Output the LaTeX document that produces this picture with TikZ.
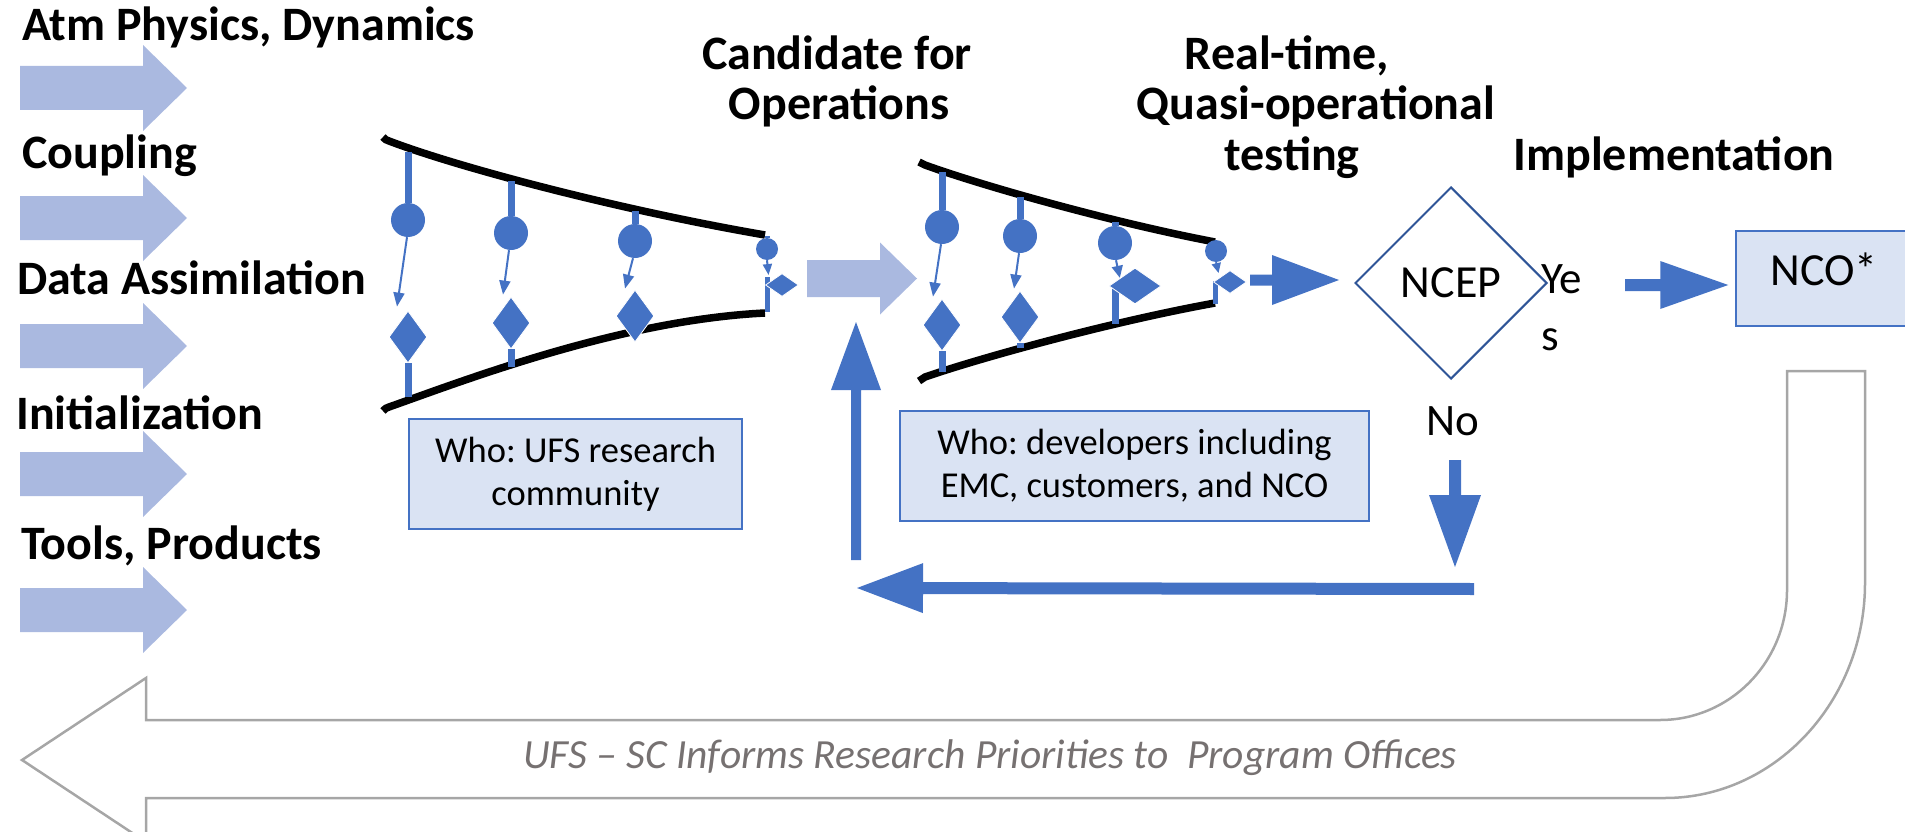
\documentclass[tikz,border=0pt]{standalone}
\usepackage{fontspec}
\setmainfont{Carlito}
\frenchspacing
\usetikzlibrary{arrows.meta,calc,shapes.geometric}
\definecolor{ublue}{HTML}{4472C4}
\definecolor{lblue}{HTML}{AAB9E0}
\definecolor{dblue}{HTML}{2F5597}
\definecolor{boxfill}{HTML}{DAE3F3}
\definecolor{ugray}{HTML}{A6A6A6}
\definecolor{tgray}{HTML}{767171}
% block arrow: #1 style, #2 start, #3 tip, #4 half shaft, #5 half head, #6 head length
\newcommand{\barrow}[6]{%
  \coordinate (tmpH) at ($(#3)!#6!(#2)$);
  \fill[#1] ($(#2)!#4!90:(#3)$) -- ($(tmpH)!#4!90:(#3)$) -- ($(tmpH)!#5!90:(#3)$) -- (#3)
    -- ($(tmpH)!#5!-90:(#3)$) -- ($(tmpH)!#4!-90:(#3)$) -- ($(#2)!#4!-90:(#3)$) -- cycle;}
\tikzset{
 lbl/.style={font=\bfseries\fontsize{48}{57}\selectfont, inner sep=0pt},
 heading/.style={font=\bfseries\fontsize{48}{57}\selectfont, inner sep=0pt},
 reg/.style={font=\fontsize{45}{57}\selectfont, inner sep=0pt},
 whobox/.style={draw=ublue, line width=1.5pt, fill=boxfill, align=center,
   font=\fontsize{36.5}{43}\selectfont, inner sep=0pt},
 funnel/.style={line width=7.5pt},
 ball/.style={circle, fill=ublue, inner sep=0pt},
 gem/.style={diamond, fill=ublue, draw=white, line width=0.8pt, inner sep=0pt},
 stemline/.style={draw=ublue, line width=7pt},
 tarrow/.style={draw=ublue, line width=2pt, -{Triangle[length=14pt,width=11pt]}},
}
\begin{document}
\begin{tikzpicture}[x=1pt,y=-1pt]
\useasboundingbox (0,0) rectangle (1905,832);

% ---------- left inputs ----------
\node[lbl, anchor=base west] (l1) at (22,41) {Atm Physics, Dynamics};
\node[lbl, anchor=base west] (l2) at (22,168) {Coupling};
\node[lbl, anchor=base west] (l3) at (17,294) {Data Assimilation};
\node[lbl, anchor=base west] (l4) at (16,429) {Initialization};
\node[lbl, anchor=base west] (l5) at (21,559) {Tools, Products};
\foreach \i/\yy in {1/88,2/218,3/346,4/474,5/610}{
  \coordinate (ls\i) at (20,\yy);
  \coordinate (le\i) at (187,\yy);
  \barrow{fill=lblue}{ls\i}{le\i}{22pt}{43pt}{44pt}
}

% ---------- headings ----------
\node[heading, anchor=base] (h1a) at (837,70) {Candidate for};
\node[heading, anchor=base] (h1b) at (839,120) {Operations};
\node[heading, anchor=base] (h2a) at (1287,70) {Real-time,};
\node[heading, anchor=base] (h2b) at (1316,120) {Quasi-operational};
\node[heading, anchor=base] (h2c) at (1292,170) {testing};
\node[heading, anchor=base] (h3) at (1674,170) {Implementation};

% ---------- funnel 1 ----------
\draw[funnel] (383,137) .. controls (386,140) .. (389,141) .. controls (460,168) and (620,210) .. (765,235);
\draw[funnel] (383,411) .. controls (386,408) .. (389,407) .. controls (460,382) and (620,320) .. (765,313);

\node[ball, minimum size=34pt] (c11) at (408,220) {};
\node[gem, minimum width=38pt, minimum height=52pt] (d11) at (408,337) {};
\coordinate (t11) at (408,152); \coordinate (b11) at (408,397);
\draw[stemline] (t11) -- (c11); \draw[stemline] (d11) -- (b11);
\draw[tarrow] ([xshift=-1pt]c11.south) -- ([xshift=-11pt,yshift=4pt]d11.north);

\node[ball, minimum size=34pt] (c12) at (511,233) {};
\node[gem, minimum width=38pt, minimum height=52pt] (d12) at (511,323) {};
\coordinate (t12) at (511,181); \coordinate (b12) at (511,367);
\draw[stemline] (t12) -- (c12); \draw[stemline] (d12) -- (b12);
\draw[tarrow] ([xshift=-2pt]c12.south) -- ([xshift=-8pt,yshift=2pt]d12.north);

\node[ball, minimum size=34pt] (c13) at (635,241) {};
\node[gem, minimum width=38pt, minimum height=52pt] (d13) at (635,316) {};
\coordinate (t13) at (635,211);
\draw[stemline] (t13) -- (c13);
\draw[tarrow] ([xshift=-2pt]c13.south) -- ([xshift=-10pt,yshift=1pt]d13.north);

\node[ball, minimum size=22pt] (c14) at (767,249) {};
\coordinate (t14) at (767,236);
\draw[stemline, line width=5pt] (t14) -- (c14);
\coordinate (f14a) at (767,277); \coordinate (f14b) at (767,312);
\draw[stemline, line width=5pt] (f14a) -- (f14b);
\node[gem, minimum width=33pt, minimum height=23pt] (d14) at (782,285) {};
\draw[tarrow, -{Triangle[length=11pt,width=9pt]}] (c14.south) -- ([xshift=-5pt,yshift=4pt]d14.north west);

% ---------- arrow between funnels ----------
\coordinate (mS) at (807,278.5); \coordinate (mE) at (917,278.5);
\barrow{fill=lblue}{mS}{mE}{18.5pt}{36pt}{37pt}

% ---------- funnel 2 ----------
\draw[funnel] (919,162) .. controls (922,164) .. (925,165) .. controls (980,185) and (1110,222) .. (1215,242);
\draw[funnel] (919,381) .. controls (922,379) .. (925,377) .. controls (980,358) and (1110,322) .. (1215,303);

\node[ball, minimum size=34pt] (c21) at (942,227) {};
\node[gem, minimum width=38pt, minimum height=52pt] (d21) at (942,325) {};
\coordinate (t21) at (942,172); \coordinate (b21) at (942,372);
\draw[stemline] (t21) -- (c21); \draw[stemline] (d21) -- (b21);
\draw[tarrow] ([xshift=-1pt]c21.south) -- ([xshift=-9pt,yshift=2pt]d21.north);

\node[ball, minimum size=34pt] (c22) at (1020,236) {};
\node[gem, minimum width=38pt, minimum height=52pt] (d22) at (1020,317) {};
\coordinate (t22) at (1020,197); \coordinate (b22) at (1020,348);
\draw[stemline] (t22) -- (c22); \draw[stemline] (d22) -- (b22);
\draw[tarrow] ([xshift=-1pt]c22.south) -- ([xshift=-6pt,yshift=2pt]d22.north);

\node[ball, minimum size=34pt] (c23) at (1115,243) {};
\coordinate (t23) at (1115,222);
\draw[stemline] (t23) -- (c23);
\coordinate (f23a) at (1115,284); \coordinate (f23b) at (1115,324);
\draw[stemline, line width=7pt] (f23a) -- (f23b);
\node[gem, minimum width=52pt, minimum height=36pt] (d23) at (1135,286) {};
\draw[tarrow, -{Triangle[length=12pt,width=11pt]}] ([xshift=1pt]c23.south) -- ([xshift=-2pt,yshift=-1pt]d23.north west);

\node[ball, minimum size=22pt] (c24) at (1216,251) {};
\coordinate (f24a) at (1215,281); \coordinate (f24b) at (1215,304);
\draw[stemline, line width=5pt] (f24a) -- (f24b);
\node[gem, minimum width=33pt, minimum height=23pt] (d24) at (1230,282) {};
\draw[tarrow, -{Triangle[length=10pt,width=9pt]}] (c24.south) -- ([xshift=-3pt,yshift=3pt]d24.north west);

% ---------- who boxes ----------
\node[whobox, minimum width=333pt, minimum height=110pt] (who1) at (575.5,474) {Who: UFS research\\community};
\node[whobox, minimum width=469pt, minimum height=110pt] (who2) at (1134.5,466) {Who: developers including\\EMC, customers, and NCO};

% ---------- decision ----------
\node[diamond, draw=dblue, line width=2pt, minimum width=192pt, minimum height=192pt,
      inner sep=0pt, font=\fontsize{46}{55}\selectfont] (ncep) at (1451,283) {NCEP};
\coordinate (inS) at (1250,280); \coordinate (inE) at ($(ncep.west)+(-15,-3)$);
\barrow{fill=ublue}{inS}{inE}{5.5pt}{25pt}{67pt}

\node[reg, anchor=north west, align=left] (yes) at (1541,264) {Ye\\s};
\node[reg, anchor=base] (no) at (1453,435) {No};

\node[draw=ublue, line width=1.5pt, fill=boxfill, minimum width=176pt, minimum height=95pt,
      inner sep=0pt, font=\fontsize{46}{55}\selectfont, text height=32pt, text depth=19pt] (nco) at (1824,278.5) {NCO*};
\coordinate (yS) at (1625,285); \coordinate (yE) at ($(nco.west)+(-7,6.5)$);
\barrow{fill=ublue}{yS}{yE}{6pt}{24pt}{68pt}

% ---------- loop back ----------
\coordinate (nS) at (1455,460); \coordinate (nE) at (1455,567);
\barrow{fill=ublue}{nS}{nE}{6pt}{26pt}{72pt}
\coordinate (bS) at (1474,589); \coordinate (bE) at (857,588);
\barrow{fill=ublue}{bS}{bE}{6pt}{25pt}{66pt}
\coordinate (uS) at (856,560); \coordinate (uE) at (856,322);
\barrow{fill=ublue}{uS}{uE}{5pt}{25pt}{68pt}

% ---------- big return arrow ----------
\draw[ugray, line width=2.5pt, line join=miter]
  (1787,371) -- (1865,371) -- (1865,583) .. controls (1865,701) and (1775,798) .. (1665,798)
  -- (146,798) -- (146,842) -- (22,760) -- (146,678) -- (146,720) -- (1660,720)
  .. controls (1730,720) and (1787,662) .. (1787,590) -- cycle;
\node[font=\itshape\fontsize{41.5}{50}\selectfont, text=tgray, anchor=base, inner sep=0pt] (ufs) at (990,768)
  {UFS – SC Informs Research Priorities to\ \ Program Offices};
\end{tikzpicture}
\end{document}
